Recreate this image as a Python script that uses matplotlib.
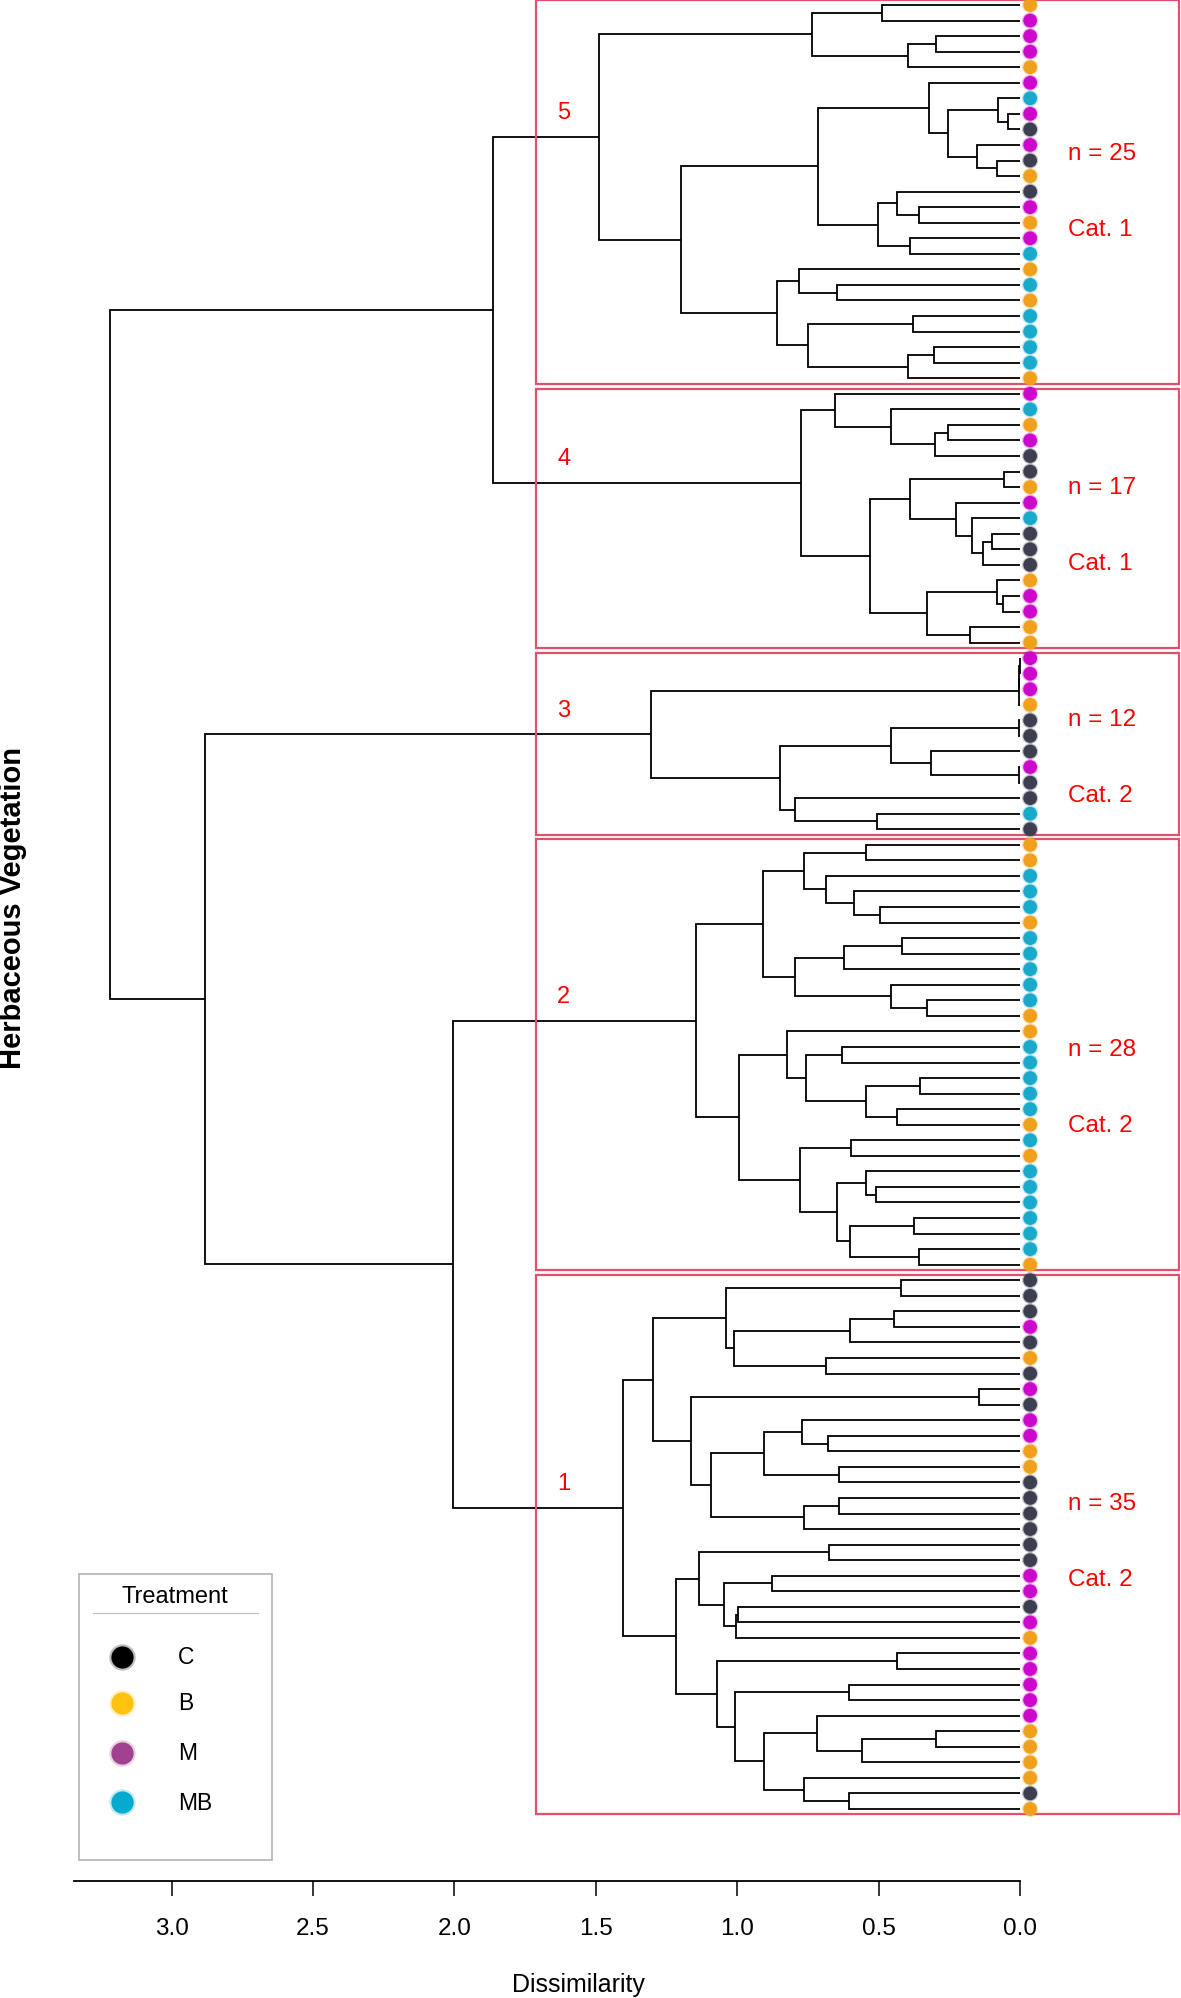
import numpy as np
import matplotlib
matplotlib.use("Agg")
import matplotlib.pyplot as plt
from matplotlib.patches import Rectangle

plt.rcParams['font.family'] = ['Liberation Sans', 'DejaVu Sans']

# clusters from top to bottom of the plot
cluster_ids = ["5", "4", "3", "2", "1"]
cat_labels = ["Cat. 1", "Cat. 1", "Cat. 2", "Cat. 2", "Cat. 2"]

# treatment of each leaf, top to bottom
leaves_5 = ["B", "M", "M", "M", "B", "M", "MB", "M", "C", "M", "C", "B", "C",
            "M", "B", "M", "MB", "B", "MB", "B", "MB", "MB", "MB", "MB", "B"]
leaves_4 = ["M", "MB", "B", "M", "C", "C", "B", "M", "MB", "C", "C", "C", "B",
            "M", "M", "B", "B"]
leaves_3 = ["M", "M", "M", "B", "C", "C", "C", "M", "C", "C", "MB", "C"]
leaves_2 = ["B", "B", "MB", "MB", "MB", "B", "MB", "MB", "MB", "MB", "MB", "B",
            "B", "MB", "MB", "MB", "MB", "MB", "B", "MB", "B", "MB", "MB", "MB",
            "MB", "MB", "MB", "B"]
leaves_1 = ["C", "C", "C", "M", "C", "B", "C", "M", "C", "M", "M", "B", "B",
            "C", "C", "C", "C", "C", "C", "M", "M", "C", "M", "B", "M", "M",
            "M", "M", "M", "B", "B", "B", "B", "C", "B"]

# merges in hclust style: negative = leaf (1-based), positive = earlier merge
merges_5 = [(-1, -2, 0.489), (-3, -4, 0.297), (2, -5, 0.395), (1, 3, 0.737),
            (-8, -9, 0.041), (-7, 5, 0.079), (-11, -12, 0.080), (-10, 7, 0.153),
            (6, 8, 0.256), (-6, 9, 0.321), (-14, -15, 0.358), (-13, 11, 0.436),
            (-16, -17, 0.389), (12, 13, 0.501), (10, 14, 0.716),
            (-19, -20, 0.646), (-18, 16, 0.782), (-21, -22, 0.380),
            (-23, -24, 0.304), (19, -25, 0.395), (18, 20, 0.751),
            (17, 21, 0.861), (15, 22, 1.197), (4, 23, 1.489)]
merges_4 = [(-3, -4, 0.254), (1, -5, 0.301), (-2, 2, 0.457), (-1, 3, 0.654),
            (-6, -7, 0.055), (-10, -11, 0.100), (6, -12, 0.132), (-9, 7, 0.170),
            (-8, 8, 0.226), (5, 9, 0.389), (-14, -15, 0.061), (-13, 11, 0.081),
            (-16, -17, 0.177), (12, 13, 0.330), (10, 14, 0.531), (4, 15, 0.776)]
merges_3 = [(-1, -2, 0.001), (1, -3, 0.002), (2, -4, 0.003), (-5, -6, 0.002),
            (-8, -9, 0.002), (-7, 5, 0.315), (4, 6, 0.456), (-11, -12, 0.504),
            (-10, 8, 0.797), (7, 9, 0.848), (3, 10, 1.306)]
merges_2 = [(-1, -2, 0.546), (-5, -6, 0.495), (-4, 2, 0.587), (-3, 3, 0.687),
            (1, 4, 0.762), (-7, -8, 0.418), (6, -9, 0.623), (-11, -12, 0.330),
            (-10, 8, 0.456), (7, 9, 0.797), (5, 10, 0.908), (-14, -15, 0.631),
            (-16, -17, 0.355), (-18, -19, 0.434), (13, 14, 0.546),
            (12, 15, 0.758), (-13, 16, 0.824), (-20, -21, 0.598),
            (-23, -24, 0.508), (-22, 19, 0.546), (-25, -26, 0.374),
            (-27, -28, 0.356), (21, 22, 0.602), (20, 23, 0.647),
            (18, 24, 0.778), (17, 25, 0.994), (11, 26, 1.144)]
merges_1 = [(-1, -2, 0.421), (-3, -4, 0.445), (2, -5, 0.601), (-6, -7, 0.687),
            (3, 4, 1.012), (1, 5, 1.040), (-8, -9, 0.145), (-11, -12, 0.679),
            (-10, 8, 0.771), (-13, -14, 0.640), (9, 10, 0.904),
            (-15, -16, 0.639), (12, -17, 0.762), (11, 13, 1.091),
            (7, 14, 1.164), (6, 15, 1.299), (-18, -19, 0.674),
            (-20, -21, 0.877), (-22, -23, 0.998), (19, -24, 1.003),
            (18, 20, 1.045), (17, 21, 1.135), (-25, -26, 0.436),
            (-27, -28, 0.604), (-30, -31, 0.297), (25, -32, 0.559),
            (-29, 26, 0.717), (-34, -35, 0.604), (-33, 28, 0.764),
            (27, 29, 0.904), (24, 30, 1.007), (23, 31, 1.071),
            (22, 32, 1.217), (16, 33, 1.405)]
# joins between the cluster roots (negative = cluster, top to bottom)
top_merges = [(-1, -2, 1.862), (-4, -5, 2.006), (-3, 2, 2.883), (1, 3, 3.217)]

# where the "n = .." text sits, in leaf rows
n_label_rows = [9.5, 31.0, 45.9, 67.1, 96.3]

treatments = ["C", "B", "M", "MB"]
dot_colors = {"C": "#3d3f50", "B": "#f0a01c", "M": "#cc08cc", "MB": "#19a9cb"}
legend_colors = {"C": "#000000", "B": "#ffc20e", "M": "#a0428f", "MB": "#05aacf"}

leaf_lists = [leaves_5, leaves_4, leaves_3, leaves_2, leaves_1]
merge_lists = [merges_5, merges_4, merges_3, merges_2, merges_1]

fig = plt.figure(figsize=(11.81, 19.99), dpi=100)
ax = fig.add_axes([0.06156, 0.05838, 0.93760, 0.94162])
box_col = "#e2506b"


def draw_tree(ax, merges, pos):
    nodes = []
    for a, b, h in merges:
        ya, ha = pos[-a - 1] if a < 0 else nodes[a - 1]
        yb, hb = pos[-b - 1] if b < 0 else nodes[b - 1]
        ax.plot([ha, h, h, hb], [ya, ya, yb, yb], color="black", lw=1.3,
                solid_joinstyle="miter", solid_capstyle="butt")
        nodes.append(((ya + yb) / 2, h))
    return nodes[-1]


start = 0
roots = []
for k, (leaves, merges) in enumerate(zip(leaf_lists, merge_lists)):
    n = len(leaves)
    pos = [(start + i, 0.0) for i in range(n)]
    root = draw_tree(ax, merges, pos)
    roots.append(root)
    ax.add_patch(Rectangle((1.713, start - 0.34), -0.562 - 1.713, n - 1 + 0.68,
                           fill=False, edgecolor=box_col, lw=1.6, clip_on=False,
                           zorder=4))
    ax.text(1.613, root[0] - 1.6, cluster_ids[k], color="red", fontsize=17,
            ha="center", va="center")
    ax.text(-0.170, n_label_rows[k], "n = %d" % n, color="red", fontsize=17.5,
            ha="left", va="center")
    ax.text(-0.170, n_label_rows[k] + 4.9, cat_labels[k], color="red",
            fontsize=17.5, ha="left", va="center")
    start += n

draw_tree(ax, top_merges, roots)

all_leaves = sum(leaf_lists, [])
ys = np.arange(len(all_leaves))
cols = [dot_colors[t] for t in all_leaves]
ax.scatter(np.full(len(ys), -0.036), ys, s=135, c=cols, alpha=0.3,
           linewidths=0, zorder=5)
ax.scatter(np.full(len(ys), -0.036), ys, s=98, c=cols, linewidths=0, zorder=6)

ax.set_xlim(3.35, -0.566)
ax.set_ylim(120.65, -0.3858)
for s in ["left", "right", "top"]:
    ax.spines[s].set_visible(False)
ax.spines["bottom"].set_bounds(0, 3.345)
ax.spines["bottom"].set_linewidth(1.3)
ticks = np.arange(0, 3.01, 0.5)
ax.set_xticks(ticks)
ax.set_xticklabels(["%.1f" % t for t in ticks])
ax.tick_params(axis="x", direction="out", length=10.8, width=1.1,
               labelsize=17.5, pad=15)
ax.set_yticks([])

fig.text(0.0112, 0.5458, "Herbaceous Vegetation", rotation=90, fontsize=21,
         fontweight="bold", ha="center", va="center")
fig.text(0.4894, 0.0068, "Dissimilarity", fontsize=18, ha="center",
         va="center")

# legend drawn by hand
fig.patches.append(Rectangle((0.0669, 0.0690), 0.1634, 0.1431, fill=False,
                             edgecolor="#b4b4b4", lw=1.2,
                             transform=fig.transFigure))
fig.text(0.1482, 0.2011, "Treatment", fontsize=17, ha="center", va="center")
fig.lines.append(plt.Line2D([0.0787, 0.2185], [0.1926, 0.1926],
                            color="#c0c0c0", lw=0.9, transform=fig.transFigure))
leg_y = [0.1706, 0.1476, 0.1226, 0.0980]
for t, y in zip(treatments, leg_y):
    fig.lines.append(plt.Line2D([0.1033], [y], marker="o", markersize=19,
                                color=legend_colors[t], alpha=0.25, lw=0,
                                markeredgewidth=0, transform=fig.transFigure))
    fig.lines.append(plt.Line2D([0.1033], [y], marker="o", markersize=16,
                                color=legend_colors[t], lw=0,
                                markeredgewidth=0, transform=fig.transFigure))
    fig.text(0.1507, y, t, fontsize=16.5, ha="left", va="center")

fig.savefig("out.png", dpi=100)
